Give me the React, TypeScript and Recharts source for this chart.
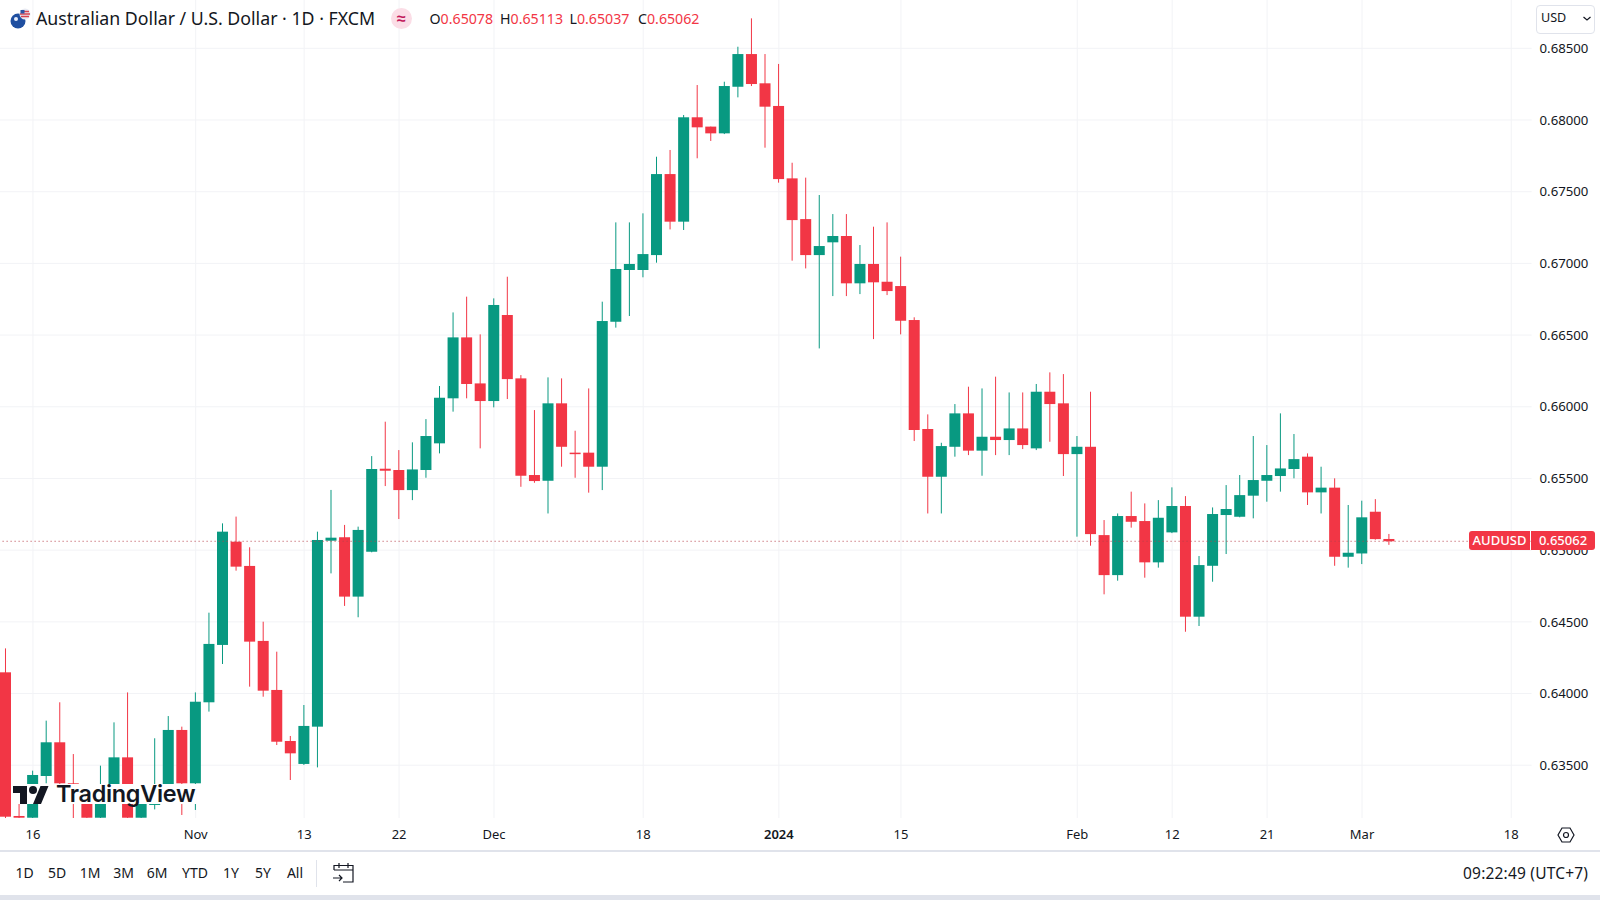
import { Bar, CartesianGrid, ComposedChart, ReferenceLine, XAxis, YAxis } from 'recharts';

const UP = '#089981';
const DOWN = '#F23645';
const TEXT = '#131722';
const FONT = '"Noto Sans", sans-serif';

const dates = [
  '2023-10-12', '2023-10-13', '2023-10-16', '2023-10-17', '2023-10-18', '2023-10-19', '2023-10-20', '2023-10-23',
  '2023-10-24', '2023-10-25', '2023-10-26', '2023-10-27', '2023-10-30', '2023-10-31', '2023-11-01', '2023-11-02',
  '2023-11-03', '2023-11-06', '2023-11-07', '2023-11-08', '2023-11-09', '2023-11-10', '2023-11-13', '2023-11-14',
  '2023-11-15', '2023-11-16', '2023-11-17', '2023-11-20', '2023-11-21', '2023-11-22', '2023-11-23', '2023-11-24',
  '2023-11-27', '2023-11-28', '2023-11-29', '2023-11-30', '2023-12-01', '2023-12-04', '2023-12-05', '2023-12-06',
  '2023-12-07', '2023-12-08', '2023-12-11', '2023-12-12', '2023-12-13', '2023-12-14', '2023-12-15', '2023-12-18',
  '2023-12-19', '2023-12-20', '2023-12-21', '2023-12-22', '2023-12-25', '2023-12-26', '2023-12-27', '2023-12-28',
  '2023-12-29', '2024-01-02', '2024-01-03', '2024-01-04', '2024-01-05', '2024-01-08', '2024-01-09', '2024-01-10',
  '2024-01-11', '2024-01-12', '2024-01-15', '2024-01-16', '2024-01-17', '2024-01-18', '2024-01-19', '2024-01-22',
  '2024-01-23', '2024-01-24', '2024-01-25', '2024-01-26', '2024-01-29', '2024-01-30', '2024-01-31', '2024-02-01',
  '2024-02-02', '2024-02-05', '2024-02-06', '2024-02-07', '2024-02-08', '2024-02-09', '2024-02-12', '2024-02-13',
  '2024-02-14', '2024-02-15', '2024-02-16', '2024-02-19', '2024-02-20', '2024-02-21', '2024-02-22', '2024-02-23',
  '2024-02-26', '2024-02-27', '2024-02-28', '2024-02-29', '2024-03-01', '2024-03-04', '2024-03-05',
  // empty space to the right of the last candle
  '2024-03-06', '2024-03-07', '2024-03-08', '2024-03-11', '2024-03-12', '2024-03-13', '2024-03-14', '2024-03-15',
  '2024-03-18', '2024-03-19',
];

const opens = [
  0.64148, 0.63146, 0.63134, 0.63425, 0.6366, 0.63374, 0.63304, 0.63134, 0.6335, 0.63555, 0.63134, 0.63223, 0.6335,
  0.63746, 0.63374, 0.63939, 0.64339, 0.65059, 0.6489, 0.64367, 0.64025, 0.63669, 0.63509, 0.63769, 0.65066, 0.6509,
  0.64676, 0.64989, 0.65568, 0.65559, 0.65419, 0.65559, 0.65745, 0.66059, 0.66484, 0.66163, 0.6604, 0.6664, 0.66198,
  0.65524, 0.65484, 0.66024, 0.6568, 0.6568, 0.65582, 0.66593, 0.66954, 0.66954, 0.67058, 0.67623, 0.67291, 0.68019,
  0.67954, 0.67907, 0.68232, 0.6846, 0.68256, 0.68098, 0.67593, 0.67309, 0.67058, 0.67147, 0.67191, 0.66861, 0.66996,
  0.66872, 0.66842, 0.66605, 0.65845, 0.65512, 0.65721, 0.65954, 0.65694, 0.65791, 0.65768, 0.65849, 0.6571, 0.66105,
  0.66024, 0.6567, 0.65721, 0.65105, 0.64826, 0.65238, 0.65203, 0.64915, 0.65124, 0.65308, 0.64536, 0.64891, 0.65245,
  0.65233, 0.6538, 0.65484, 0.65517, 0.65566, 0.65652, 0.65403, 0.65436, 0.64954, 0.64977, 0.65268, 0.65078,
];
const highs = [
  0.64315, 0.6323, 0.63462, 0.63811, 0.63939, 0.63578, 0.63327, 0.63497, 0.63799, 0.64008, 0.63304, 0.63688, 0.63843,
  0.63769, 0.64008, 0.64564, 0.65187, 0.65234, 0.6502, 0.64501, 0.64292, 0.63704, 0.6392, 0.65129, 0.6542, 0.65176,
  0.65164, 0.65656, 0.65896, 0.65698, 0.65752, 0.65914, 0.66145, 0.66658, 0.66768, 0.66505, 0.66756, 0.66907, 0.66221,
  0.65977, 0.66205, 0.66198, 0.65833, 0.66128, 0.66733, 0.67286, 0.67286, 0.67349, 0.67744, 0.67791, 0.68035, 0.68244,
  0.67954, 0.68267, 0.68511, 0.68709, 0.6846, 0.68391, 0.67702, 0.67598, 0.67477, 0.67344, 0.67344, 0.67128, 0.67256,
  0.67286, 0.67047, 0.66624, 0.65947, 0.65749, 0.66019, 0.6614, 0.66128, 0.6621, 0.661, 0.661, 0.66159, 0.6624,
  0.66228, 0.65796, 0.66105, 0.6521, 0.65256, 0.65408, 0.65326, 0.65349, 0.65438, 0.65377, 0.64959, 0.65298, 0.65454,
  0.65524, 0.65796, 0.65733, 0.65954, 0.6581, 0.65675, 0.65582, 0.65501, 0.65315, 0.65345, 0.65356, 0.65113,
];
const lows = [
  0.63118, 0.6313, 0.63125, 0.63374, 0.6335, 0.6313, 0.63125, 0.63125, 0.63327, 0.63125, 0.63125, 0.63192, 0.63327,
  0.63153, 0.63188, 0.63874, 0.64206, 0.64857, 0.64048, 0.63978, 0.63641, 0.63397, 0.63502, 0.63485, 0.64838, 0.64611,
  0.64532, 0.64985, 0.65447, 0.65217, 0.65349, 0.65505, 0.65675, 0.65966, 0.66059, 0.6571, 0.65996, 0.66054, 0.65442,
  0.6547, 0.65256, 0.65582, 0.65505, 0.65401, 0.65419, 0.66552, 0.66633, 0.66903, 0.67005, 0.67237, 0.67233, 0.67733,
  0.67854, 0.67902, 0.68158, 0.68237, 0.67807, 0.67563, 0.67019, 0.66965, 0.66407, 0.66772, 0.66772, 0.66786, 0.66472,
  0.66779, 0.66505, 0.65761, 0.65256, 0.65256, 0.65652, 0.65663, 0.65519, 0.65663, 0.65663, 0.65705, 0.65698, 0.65756,
  0.65517, 0.65094, 0.65031, 0.64692, 0.64787, 0.65157, 0.64808, 0.64878, 0.65119, 0.64431, 0.64471, 0.6478, 0.64973,
  0.65229, 0.65222, 0.65338, 0.65408, 0.65501, 0.65315, 0.65256, 0.64891, 0.64878, 0.64903, 0.65073, 0.65037,
];
const closes = [
  0.63141, 0.63134, 0.63432, 0.6366, 0.63374, 0.63339, 0.63134, 0.63316, 0.63555, 0.63134, 0.63269, 0.63304, 0.63746,
  0.63374, 0.63943, 0.64346, 0.65129, 0.64885, 0.64362, 0.6402, 0.63664, 0.63583, 0.63774, 0.65071, 0.65087, 0.64676,
  0.65141, 0.65566, 0.65554, 0.65419, 0.65563, 0.65796, 0.66063, 0.66484, 0.66159, 0.6604, 0.6671, 0.66193, 0.65519,
  0.65482, 0.66024, 0.65721, 0.6567, 0.65582, 0.66598, 0.66961, 0.66996, 0.67065, 0.67623, 0.67291, 0.68019, 0.67949,
  0.67907, 0.68237, 0.6846, 0.68251, 0.68093, 0.67588, 0.67302, 0.67058, 0.67121, 0.67191, 0.66861, 0.66996, 0.66868,
  0.66807, 0.666, 0.65838, 0.65512, 0.65726, 0.65954, 0.65694, 0.65791, 0.65768, 0.65849, 0.65733, 0.66105, 0.66019,
  0.6567, 0.65721, 0.65112, 0.64826, 0.65238, 0.65198, 0.64915, 0.65226, 0.65308, 0.64536, 0.64896, 0.65252, 0.65287,
  0.65384, 0.65489, 0.65524, 0.6557, 0.65635, 0.65403, 0.65436, 0.64954, 0.64982, 0.65229, 0.65077, 0.65062,
];

const lastPrice = 0.65062;
const priceTicks = [0.635, 0.64, 0.645, 0.65, 0.655, 0.66, 0.665, 0.67, 0.675, 0.68, 0.685];
const dateTicks = [
  '2023-10-16', '2023-11-01', '2023-11-13', '2023-11-22', '2023-12-01', '2023-12-18', '2024-01-02', '2024-01-15',
  '2024-02-01', '2024-02-12', '2024-02-21', '2024-03-01', '2024-03-18',
];
const dateLabels = ['16', 'Nov', '13', '22', 'Dec', '18', '2024', '15', 'Feb', '12', '21', 'Mar', '18'];
const ranges = ['1D', '5D', '1M', '3M', '6M', 'YTD', '1Y', '5Y', 'All'];
const rangeCenters = [24.5, 57, 90, 123.5, 157, 195, 231, 263, 295];

const chartData = dates.map((date, i) => ({
  date,
  open: opens[i],
  high: highs[i],
  low: lows[i],
  close: closes[i],
  range: i < opens.length ? [lows[i], highs[i]] : null,
}));

function Candle(props: any) {
  const { x, y, width, height, payload } = props;
  if (!payload || !payload.range || width == null) return null;
  const { open, high, low, close } = payload;
  const toY = (price: number) => y + ((high - price) / (high - low)) * height;
  const color = close >= open ? UP : DOWN;
  const top = toY(Math.max(open, close));
  const bottom = toY(Math.min(open, close));
  const mid = x + width / 2;
  return (
    <g>
      <line x1={mid} x2={mid} y1={y} y2={y + height} stroke={color} strokeWidth={1} />
      <rect x={x} y={top} width={width} height={Math.max(bottom - top, 1.5)} fill={color} />
    </g>
  );
}

function DateTick(props: any) {
  const { x, y, payload } = props;
  const label = dateLabels[dateTicks.indexOf(payload.value)];
  return (
    <text x={x} y={y + 13} textAnchor="middle" fontSize={13} fontFamily={FONT} fontWeight={label === '2024' ? 600 : 400} fill={TEXT}>
      {label}
    </text>
  );
}

function abs(left: number, top: number, extra: any = {}): any {
  return { position: 'absolute', left, top, fontFamily: FONT, color: TEXT, whiteSpace: 'nowrap', ...extra };
}

function Header() {
  const ohlc = [
    ['O', '0.65078', 429.5],
    ['H', '0.65113', 500],
    ['L', '0.65037', 569.5],
    ['C', '0.65062', 638],
  ];
  return (
    <>
      <svg style={{ position: 'absolute', left: 9, top: 7 }} width={24} height={24}>
        <circle cx={9} cy={14} r={7.5} fill="#1f4fa0" />
        <circle cx={7} cy={12} r={2} fill="#e8eefc" />
        <circle cx={16} cy={7} r={5.5} fill="#e8eaf2" />
        <path d="M11 7h10M12 4.5h8M12 9.5h8" stroke="#d9434f" strokeWidth={1.3} />
        <rect x={11.5} y={3} width={4} height={3.5} fill="#2a55a5" />
      </svg>
      <div style={abs(36, 7, { fontSize: 17.75, lineHeight: '23px' })}>Australian Dollar / U.S. Dollar · 1D · FXCM</div>
      <div style={{ position: 'absolute', left: 391, top: 8, width: 21, height: 21, borderRadius: 11, background: '#fbdde6' }} />
      <div style={abs(391, 8, { width: 21, textAlign: 'center', fontSize: 16, lineHeight: '20px', fontWeight: 700, color: '#c2185b' })}>≈</div>
      {ohlc.map(([letter, value, left]) => (
        <div key={letter as string} style={abs(left as number, 9, { fontSize: 14.2, lineHeight: '20px' })}>
          {letter}
          <span style={{ color: DOWN }}>{value}</span>
        </div>
      ))}
      <div style={{ position: 'absolute', left: 1536, top: 5, width: 57, height: 27, border: '1px solid #e0e3eb', borderRadius: 4, background: '#fff' }} />
      <div style={abs(1541, 8, { fontSize: 12.6, lineHeight: '20px' })}>USD</div>
      <svg style={{ position: 'absolute', left: 1582, top: 15 }} width={10} height={8}>
        <path d="M1.5 2l3.5 3 3.5-3" fill="none" stroke={TEXT} strokeWidth={1.2} />
      </svg>
    </>
  );
}

function Watermark() {
  return (
    <>
      <div style={{ position: 'absolute', left: 13, top: 784, width: 183, height: 20, background: '#fff' }} />
      <svg style={{ position: 'absolute', left: 13, top: 782 }} width={36} height={28} viewBox="0 0 36 28">
        <path d="M14 22H7V11H0V4h14v18zM28 22h-8l7.5-18h8L28 22z" fill={TEXT} />
        <circle cx={20} cy={8} r={4} fill={TEXT} />
      </svg>
      <div style={abs(56, 779, { fontFamily: 'Inter, sans-serif', fontSize: 23.4, lineHeight: '30px', fontWeight: 600, letterSpacing: '-0.3px' })}>TradingView</div>
    </>
  );
}

function Toolbar() {
  return (
    <>
      <div style={{ position: 'absolute', left: 0, top: 850, width: 1600, height: 1.5, background: '#e0e3eb' }} />
      {ranges.map((r, i) => (
        <div key={r} style={abs(rangeCenters[i] - 20, 862, { width: 40, textAlign: 'center', fontSize: 14, lineHeight: '22px' })}>{r}</div>
      ))}
      <div style={{ position: 'absolute', left: 316, top: 860, width: 1, height: 27, background: '#e0e3eb' }} />
      <svg style={{ position: 'absolute', left: 332, top: 861 }} width={24} height={24}>
        <path d="M2 9V4.5h19V21H11M2 9h19M7 2v5M16 2v5M1 17h9M7 14l3 3-3 3" fill="none" stroke={TEXT} strokeWidth={1.2} />
      </svg>
      <div style={abs(1463, 862, { fontSize: 15.5, lineHeight: '22px', letterSpacing: '0.2px' })}>09:22:49 (UTC+7)</div>
      <svg style={{ position: 'absolute', left: 1557, top: 826 }} width={18} height={18}>
        <path d="M5 2h8l4 7-4 7H5L1 9z" fill="none" stroke={TEXT} strokeWidth={1.2} />
        <circle cx={9} cy={9} r={2.5} fill="none" stroke={TEXT} strokeWidth={1.2} />
      </svg>
      <div style={{ position: 'absolute', left: 0, top: 895, width: 1600, height: 5, background: '#e0e3eb' }} />
    </>
  );
}

function PriceLabel() {
  const box = { position: 'absolute', top: 531, height: 19, background: DOWN, color: '#fff', fontFamily: FONT, fontSize: 13, lineHeight: '19px', textAlign: 'center' } as any;
  return (
    <>
      <div style={{ ...box, left: 1469, width: 61, borderRadius: '3px 0 0 3px', fontWeight: 500 }}>AUDUSD</div>
      <div style={{ ...box, left: 1531, width: 64, borderRadius: '0 3px 3px 0', fontWeight: 500 }}>0.65062</div>
    </>
  );
}

export default function App() {
  return (
    <div style={{ position: 'absolute', left: 0, top: 0, width: 1600, height: 900, overflow: 'hidden', background: '#fff' }}>
      <div style={{ position: 'absolute', left: -1.48, top: 0 }}>
        <ComposedChart width={1601.48} height={850} data={chartData} margin={{ top: 0, right: 0, bottom: 0, left: 0 }} barCategoryGap={0}>
          <CartesianGrid stroke="#f2f3f6" strokeWidth={1} syncWithTicks />
          <XAxis
            dataKey="date"
            ticks={dateTicks}
            interval={0}
            height={32}
            axisLine={false}
            tickLine={false}
            tick={<DateTick />}
          />
          <YAxis
            orientation="right"
            width={68.88}
            domain={[0.63132, 0.68837]}
            allowDataOverflow
            ticks={priceTicks}
            interval={0}
            axisLine={false}
            tickLine={false}
            tickMargin={2}
            tickFormatter={(v: number) => v.toFixed(5)}
            tick={{ fontSize: 13.2, fontFamily: FONT, fill: TEXT }}
          />
          <ReferenceLine y={lastPrice} stroke="#b8404b" strokeDasharray="1 3" strokeWidth={1} />
          <Bar dataKey="range" barSize={11} shape={<Candle />} isAnimationActive={false} />
        </ComposedChart>
      </div>
      <Header />
      <Watermark />
      <PriceLabel />
      <Toolbar />
    </div>
  );
}
